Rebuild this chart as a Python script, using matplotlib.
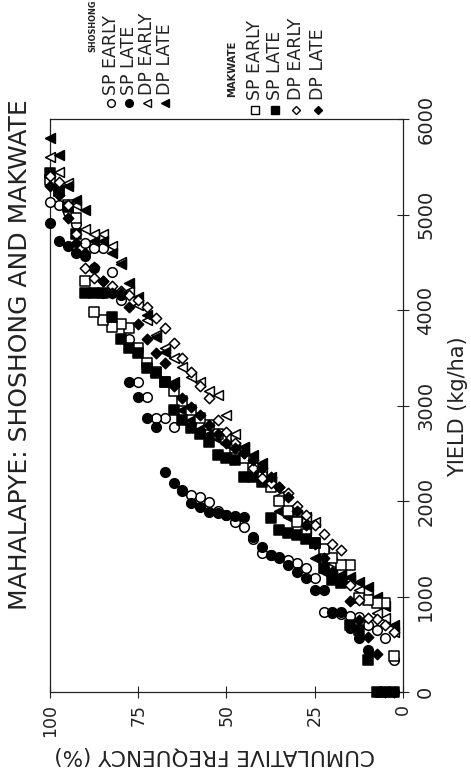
import matplotlib.pyplot as plt
import numpy as np

# yields (kg/ha) sorted, 40 plots per treatment -> cumulative frequency by rank
sh_sp_early = [330, 565, 649, 700, 785, 800, 820, 827, 838, 1194, 1300, 1351, 1380, 1400, 1430,
               1455, 1600, 1728, 1780, 1850, 1900, 1990, 2042, 2063, 2100, 2775, 2869, 2869, 3089,
               3250, 3700, 4100, 4400, 4653, 4653, 4700, 4900, 5025, 5100, 5130]
sh_sp_late = [0, 0, 0, 440, 565, 670, 838, 838, 1068, 1068, 1194, 1256, 1330, 1413, 1434, 1518,
              1623, 1832, 1840, 1850, 1870, 1885, 1937, 1979, 2115, 2188, 2303, 2775, 2869, 3089,
              3246, 4160, 4177, 4177, 4440, 4570, 4600, 4674, 4726, 4915]
sh_dp_early = [630, 780, 827, 984, 1068, 1173, 1225, 1350, 1500, 1780, 1830, 1850, 1885, 2050,
               2200, 2290, 2324, 2565, 2700, 2900, 3110, 3150, 3250, 3300, 3400, 3500, 3602, 3738,
               3900, 4050, 4200, 4500, 4674, 4800, 4800, 4850, 5100, 5329, 5450, 5600]
sh_dp_late = [700, 900, 1000, 1100, 1150, 1200, 1230, 1256, 1256, 1400, 1700, 1800, 1830, 1900,
              2250, 2398, 2480, 2565, 2565, 2600, 2650, 2700, 2750, 2850, 2950, 3250, 3560, 3717,
              3950, 4136, 4282, 4485, 4600, 4726, 4726, 5046, 5151, 5300, 5622, 5800]
mk_sp_early = [380, 932, 932, 960, 984, 1330, 1330, 1400, 1500, 1560, 1650, 1780, 1900, 2000,
               2150, 2250, 2350, 2450, 2550, 2650, 2700, 2800, 2869, 2950, 3050, 3150, 3250, 3350,
               3450, 3600, 3811, 3850, 3822, 3895, 3979, 4300, 4967, 5100, 5250, 5360]
mk_sp_late = [0, 0, 0, 330, 650, 700, 1141, 1173, 1300, 1560, 1600, 1640, 1660, 1696, 1822, 2200,
              2251, 2251, 2429, 2450, 2481, 2618, 2700, 2764, 2848, 2953, 3246, 3340, 3392, 3549,
              3600, 3700, 3926, 4177, 4177, 4177, 4800, 5078, 5250, 5434]
mk_dp_early = [628, 700, 760, 775, 963, 1120, 1487, 1550, 1650, 1750, 1850, 1950, 2083, 2150,
               2188, 2241, 2350, 2500, 2607, 2722, 2848, 3078, 3200, 3350, 3500, 3650, 3811, 3916,
               4031, 4100, 4157, 4200, 4250, 4300, 4339, 4443, 4800, 5100, 5340, 5400]
mk_dp_late = [0, 0, 400, 576, 750, 950, 1150, 1256, 1400, 1550, 1750, 1900, 2042, 2150, 2250,
              2350, 2430, 2500, 2560, 2607, 2700, 2800, 2900, 2984, 3078, 3200, 3445, 3550, 3700,
              3850, 4031, 4177, 4177, 4300, 4450, 4600, 4705, 4967, 5200, 5300]

sh_labels = ['SP EARLY', 'SP LATE', 'DP EARLY', 'DP LATE']
mk_labels = ['SP EARLY', 'SP LATE', 'DP EARLY', 'DP LATE']

# the whole chart is turned a quarter turn: yield runs up, frequency runs right-to-left
sh_series = [(sh_sp_early, 'o', False), (sh_sp_late, 'o', True),
             (sh_dp_early, '<', False), (sh_dp_late, '<', True)]
mk_series = [(mk_sp_early, 's', False), (mk_sp_late, 's', True),
             (mk_dp_early, 'D', False), (mk_dp_late, 'D', True)]
sizes = {'o': 48, 's': 42, 'D': 28, '<': 50}

fig = plt.figure(figsize=(4.71, 7.79), dpi=100)
ax = fig.add_axes([50 / 471, 87 / 779, 353 / 471, 573 / 779])

for yields, marker, filled in sh_series + mk_series:
    y = np.array(yields)
    freq = np.arange(1, len(y) + 1) / len(y) * 100
    ax.scatter(freq, y, marker=marker, s=sizes[marker],
               facecolors='black' if filled else 'white', edgecolors='black',
               linewidths=1.1, clip_on=False, zorder=3)

ax.set_xlim(100, 0)
ax.set_ylim(0, 6000)
ax.set_xticks([100, 75, 50, 25, 0])
ax.set_yticks(range(0, 7000, 1000))
ax.yaxis.tick_right()
ax.tick_params(direction='inout', length=9, width=0.8, colors='#222222')
ax.tick_params(axis='x', labelsize=12.5, pad=4, labelrotation=90)
ax.tick_params(axis='y', labelsize=14, pad=5, labelrotation=90)
for lbl in ax.get_yticklabels():
    lbl.set_va('center')
for sp in ax.spines.values():
    sp.set_linewidth(0.9)
    sp.set_color('#222222')

fig.text(215 / 471, 1 - 755 / 779, 'CUMULATIVE FREQUENCY (%)', rotation=180,
         ha='center', va='center', fontsize=15.5, color='#222222')
fig.text(458 / 471, 1 - 407 / 779, 'YIELD (kg/ha)', rotation=90,
         ha='center', va='center', fontsize=15, color='#222222')
fig.text(20 / 471, 1 - 355 / 779, 'MAHALAPYE: SHOSHONG AND MAKWATE', rotation=90,
         ha='center', va='center', fontsize=18, color='#222222')

# legend, written sideways like the rest of the chart
def legend_block(header, hx, hy, hsize, cols, labels, series, my, ty):
    fig.text(hx / 471, 1 - hy / 779, header, rotation=90, ha='center', va='bottom',
             fontsize=hsize, fontweight='bold', fontstretch='condensed',
             family=['Liberation Sans Narrow', 'DejaVu Sans'], color='#222222')
    for cx, lab, (_, marker, filled) in zip(cols, labels, series):
        fig.text(cx / 471, 1 - ty / 779, lab, rotation=90, ha='center', va='bottom',
                 fontsize=12.5, color='#222222')
        fig.add_artist(plt.Line2D([cx / 471], [1 - my / 779], marker=marker,
                                  markersize=np.sqrt(sizes[marker]) * 0.8,
                                  markerfacecolor='black' if filled else 'white',
                                  markeredgecolor='black', markeredgewidth=1.0,
                                  linestyle='none', transform=fig.transFigure))

legend_block('SHOSHONG', 93, 52, 6.5, [111, 129, 147, 165], sh_labels, sh_series, 103, 95)
legend_block('MAKWATE', 232, 97, 8, [255, 275, 296, 318], mk_labels, mk_series, 110, 100)

fig.savefig('out.png', dpi=100, facecolor='white')
